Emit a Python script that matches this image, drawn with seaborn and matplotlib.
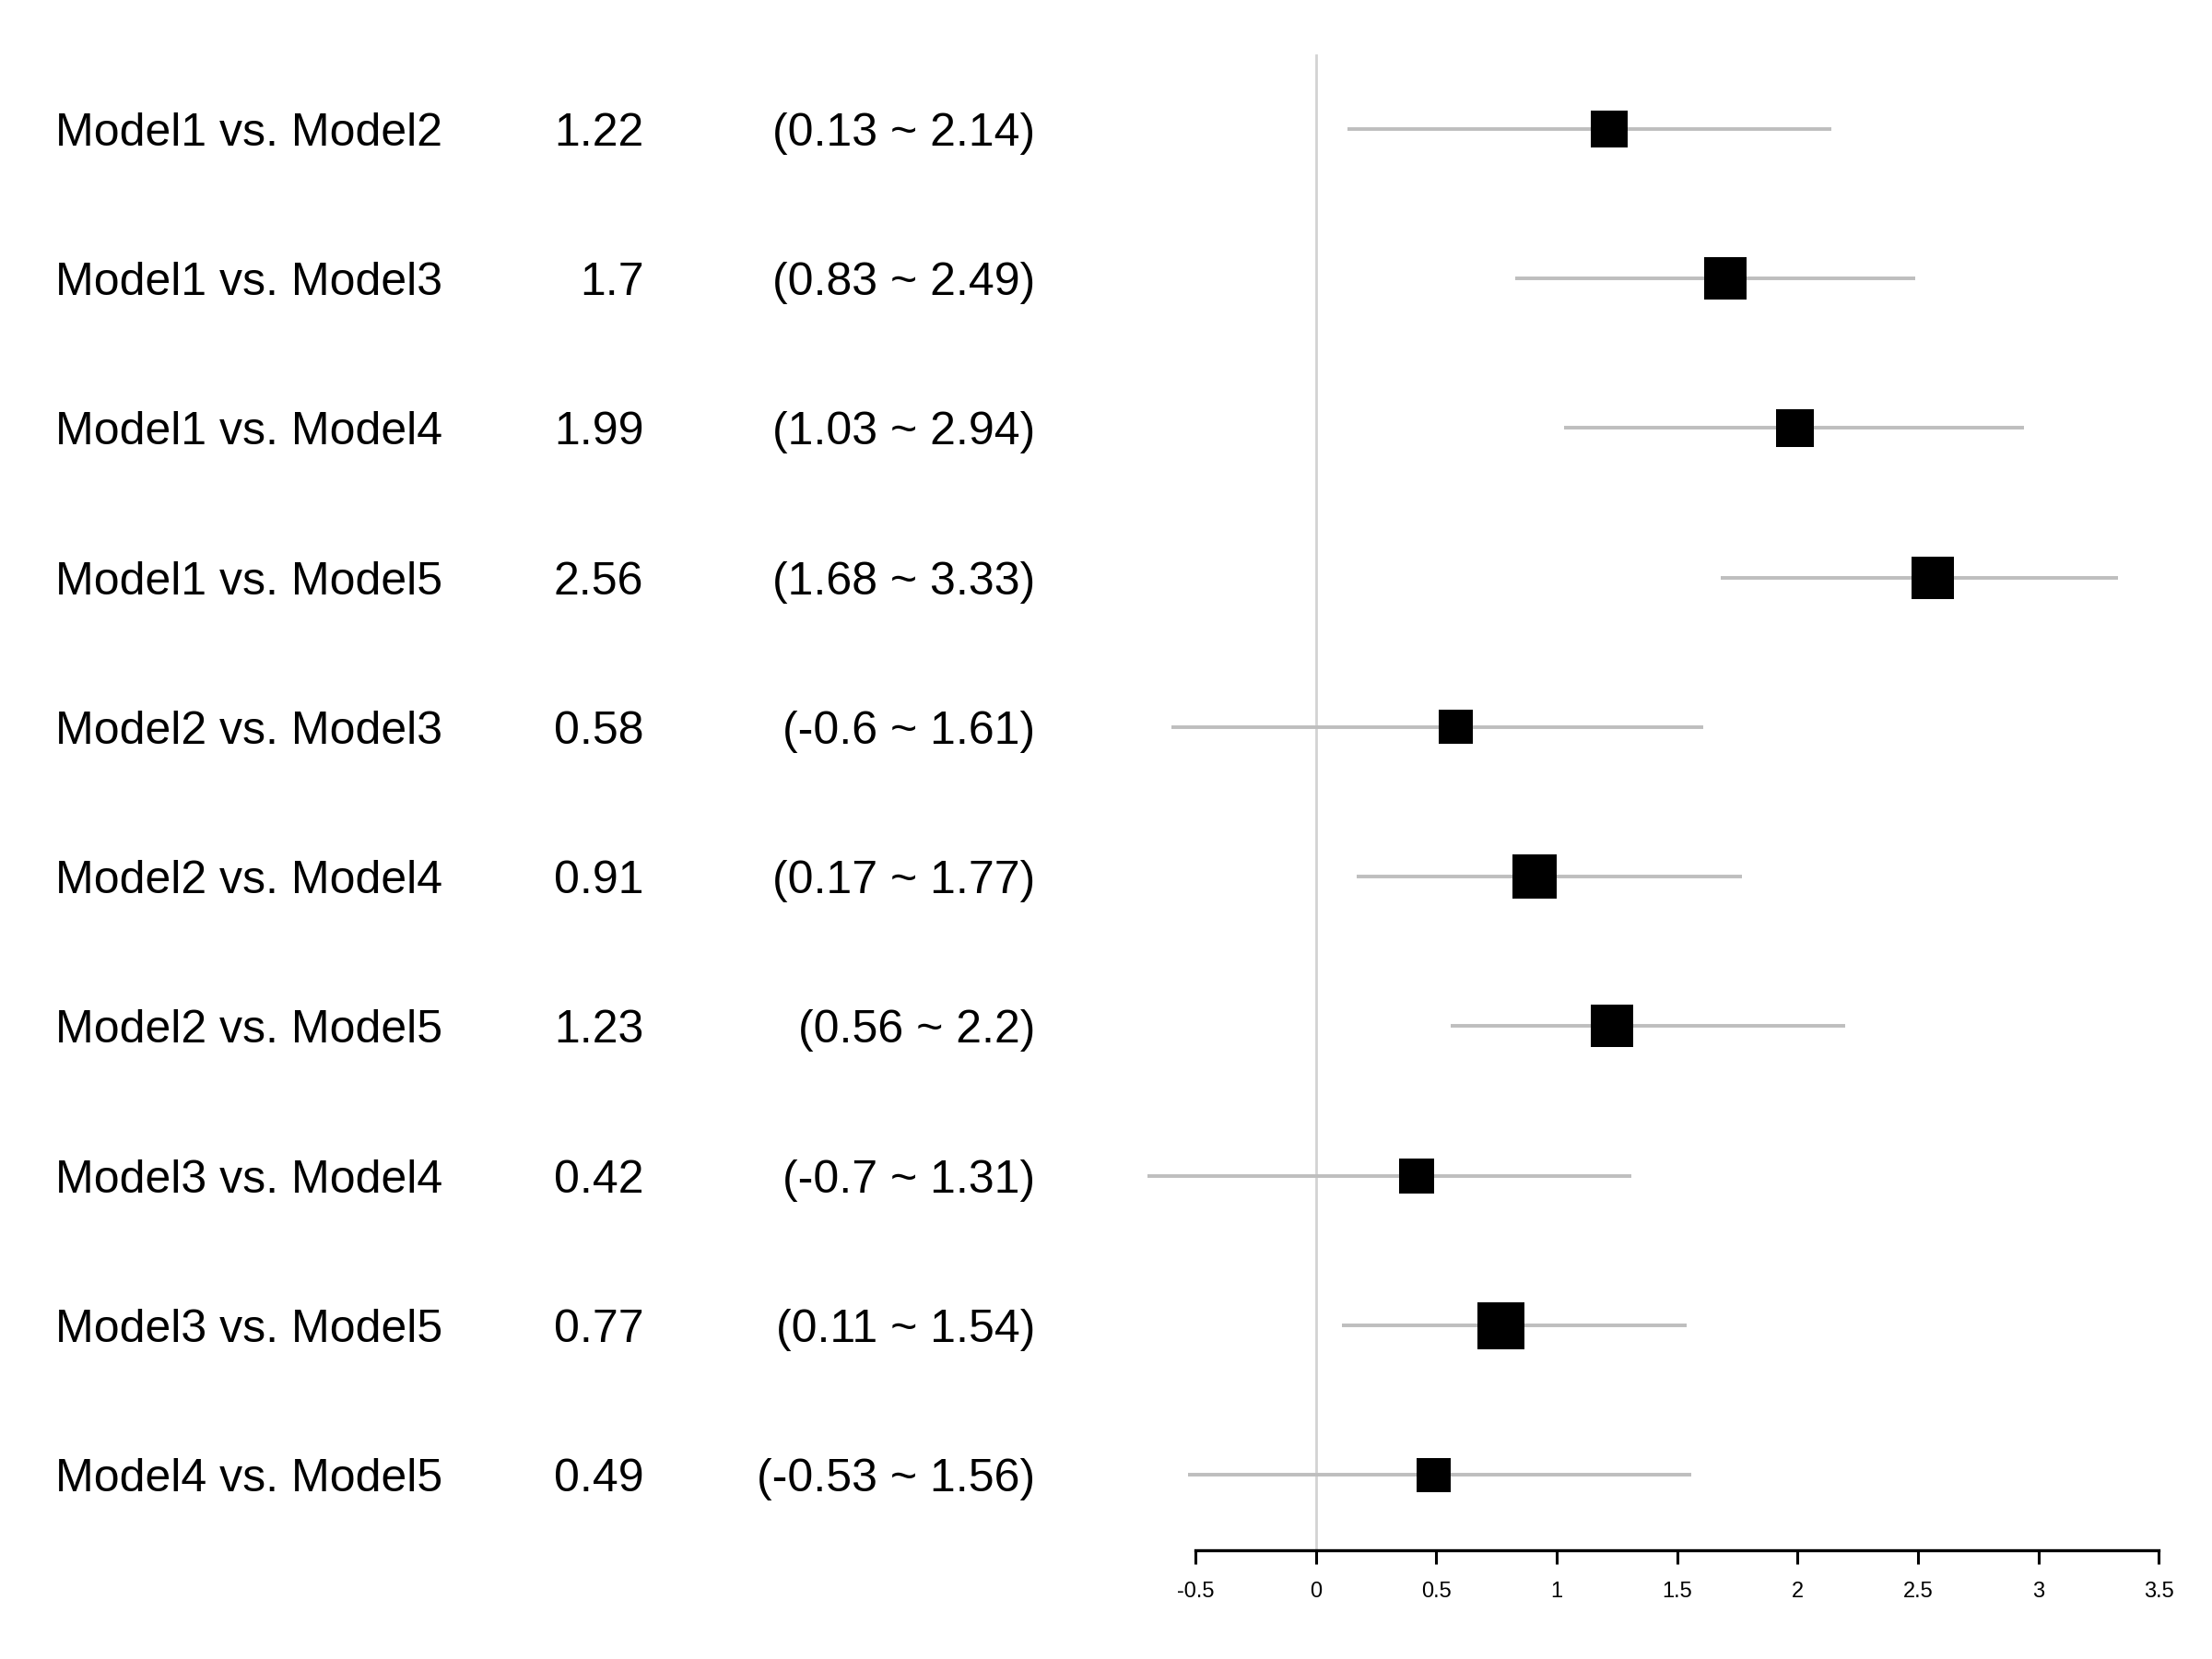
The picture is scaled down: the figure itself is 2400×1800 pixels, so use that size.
import numpy as np
import pandas as pd
import seaborn as sns
import matplotlib.pyplot as plt
from matplotlib.transforms import blended_transform_factory
from matplotlib.ticker import FuncFormatter

# Pairwise comparisons shown in the forest plot
comparisons = [
    "Model1 vs. Model2", "Model1 vs. Model3", "Model1 vs. Model4", "Model1 vs. Model5",
    "Model2 vs. Model3", "Model2 vs. Model4", "Model2 vs. Model5",
    "Model3 vs. Model4", "Model3 vs. Model5", "Model4 vs. Model5",
]
estimate = [1.22, 1.7, 1.99, 2.56, 0.58, 0.91, 1.23, 0.42, 0.77, 0.49]
ci_lower = [0.13, 0.83, 1.03, 1.68, -0.6, 0.17, 0.56, -0.7, 0.11, -0.53]
ci_upper = [2.14, 2.49, 2.94, 3.33, 1.61, 1.77, 2.2, 1.31, 1.54, 1.56]
# relative box weight (square side)
box_weight = [40, 46, 41, 46, 37, 48, 46, 38, 51, 37]
x_ticks = [-0.5, 0, 0.5, 1, 1.5, 2, 2.5, 3, 3.5]

df = pd.DataFrame({
    "label": comparisons,
    "est": estimate,
    "lo": ci_lower,
    "hi": ci_upper,
    "w": box_weight,
})
df["row"] = np.arange(len(df))

sns.set_style("white")
plt.rcParams["font.family"] = ["Liberation Sans", "DejaVu Sans"]

fig = plt.figure(figsize=(12, 9), dpi=200)
ax = fig.add_axes([0.5404, 0.0658, 0.4355, 0.9017])

# reference line at zero
ax.axvline(0, color="#d3d3d3", lw=1.0, zorder=0)

# confidence intervals (allowed to run past the axis limits)
ax.hlines(df["row"], df["lo"], df["hi"], color="#bebebe", lw=1.4, zorder=1,
          clip_on=False)

# point estimates as squares, side proportional to weight (px -> pt)
side_pt = df["w"] * 72 / 200
sns.scatterplot(data=df, x="est", y="row", marker="s", color="black",
                s=side_pt ** 2, linewidth=0, ax=ax, zorder=2, legend=False)

ax.set_xlim(-0.5, 3.5)
ax.set_ylim(len(df) - 0.5, -0.5)
ax.set_xlabel("")
ax.set_ylabel("")
ax.set_yticks([])
ax.set_xticks(x_ticks)
ax.xaxis.set_major_formatter(FuncFormatter(lambda v, p: f"{v:g}"))
ax.tick_params(axis="x", direction="out", length=5.5, width=1.1, labelsize=8.5,
               pad=7, bottom=True, color="black", labelcolor="black")
for side in ["top", "right", "left"]:
    ax.spines[side].set_visible(False)
ax.spines["bottom"].set_linewidth(1.2)
ax.spines["bottom"].set_color("black")

# text columns on the left
tr = blended_transform_factory(fig.transFigure, ax.transData)
for _, r in df.iterrows():
    ax.text(0.025, r["row"], r["label"], transform=tr, ha="left",
            va="center_baseline", fontsize=18, color="black", clip_on=False)
    ax.text(0.2910, r["row"], f"{r['est']:g}", transform=tr, ha="right",
            va="center_baseline", fontsize=18, color="black", clip_on=False)
    ax.text(0.4680, r["row"], f"({r['lo']:g} ~ {r['hi']:g})", transform=tr,
            ha="right", va="center_baseline", fontsize=18, color="black",
            clip_on=False)

fig.savefig("out.png", dpi=200, facecolor="white")
